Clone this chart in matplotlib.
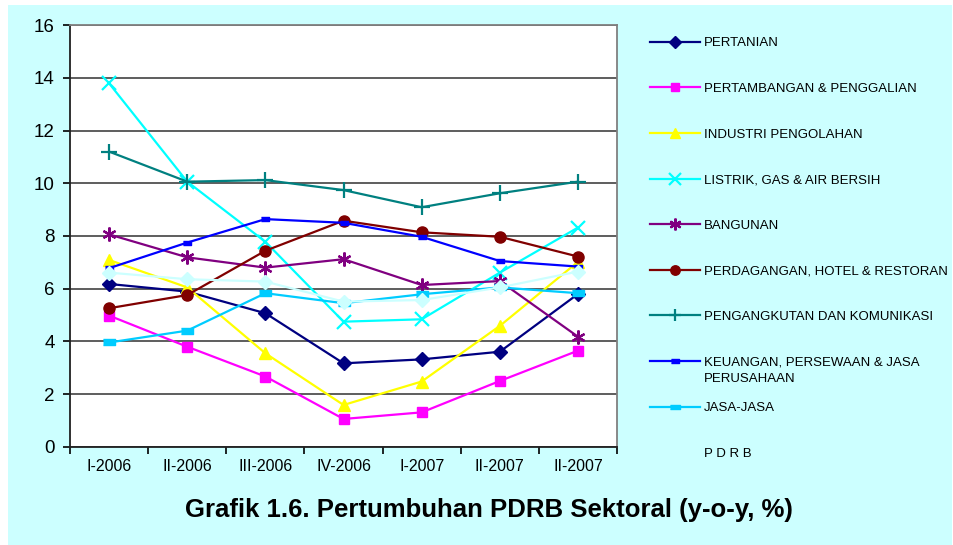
import numpy as np
import matplotlib.pyplot as plt
from matplotlib.patches import Rectangle

plt.rcParams['font.family'] = ['Liberation Sans', 'DejaVu Sans']

periods = ["I-2006", "II-2006", "III-2006", "IV-2006", "I-2007", "II-2007", "II-2007"]

pertanian = [6.18, 5.89, 5.07, 3.17, 3.32, 3.61, 5.80]
pertambangan = [4.98, 3.80, 2.67, 1.06, 1.31, 2.50, 3.65]
industri = [7.09, 6.05, 3.55, 1.59, 2.48, 4.59, 7.02]
listrik = [13.79, 10.06, 7.78, 4.75, 4.84, 6.61, 8.32]
bangunan = [8.06, 7.19, 6.80, 7.12, 6.14, 6.29, 4.18]
perdagangan = [5.26, 5.76, 7.44, 8.58, 8.14, 7.97, 7.22]
pengangkutan = [11.20, 10.06, 10.12, 9.74, 9.09, 9.62, 10.06]
keuangan = [6.78, 7.75, 8.64, 8.50, 7.97, 7.05, 6.84]
jasa = [3.96, 4.41, 5.83, 5.45, 5.79, 6.05, 5.83]
pdrb = [6.61, 6.36, 6.27, 5.51, 5.57, 6.05, 6.65]

labels = ["PERTANIAN", "PERTAMBANGAN & PENGGALIAN", "INDUSTRI PENGOLAHAN",
          "LISTRIK, GAS & AIR BERSIH", "BANGUNAN", "PERDAGANGAN, HOTEL & RESTORAN",
          "PENGANGKUTAN DAN KOMUNIKASI", "KEUANGAN, PERSEWAAN & JASA",
          "JASA-JASA", "P D R B"]
series = [pertanian, pertambangan, industri, listrik, bangunan, perdagangan,
          pengangkutan, keuangan, jasa, pdrb]
colors = ["#000080", "#FF00FF", "#FFFF00", "#00FFFF", "#800080", "#800000",
          "#008080", "#0000FF", "#00CCFF", "#CCFFFF"]
dash = [(-1, -0.5), (1, -0.5), (1, 0.5), (-1, 0.5)]
markers = ["D", "s", "^", "x", (6, 2, 0), "o", "+", dash, dash, "D"]
msizes = [7, 7, 9, 10, 10, 8, 11, 6, 8, 7]

fig = plt.figure(figsize=(9.54, 5.45), dpi=100, facecolor="white")
# light cyan chart area with thin white margin on the left/top/right
fig.patches.append(Rectangle((8 / 954, 0), 944 / 954, 540 / 545, transform=fig.transFigure,
                             facecolor="#CCFFFF", edgecolor="none", zorder=-10))
ax = fig.add_axes([0.0734, 0.180, 0.5734, 0.774])
ax.set_facecolor("white")

x = np.arange(len(periods))
for vals, lab, c, m, ms in zip(series, labels, colors, markers, msizes):
    ax.plot(x, vals, color=c, lw=1.6, marker=m, markersize=ms,
            markeredgewidth=1.6 if m in ("x", "+") or isinstance(m, tuple) else 1,
            markeredgecolor=c, markerfacecolor=c, label=lab)

ax.set_xlim(-0.5, 6.5)
ax.set_ylim(0, 16)
ax.set_yticks(np.arange(0, 17, 2))
ax.yaxis.grid(True, color="#505050", lw=1.3)
ax.set_axisbelow(True)
ax.set_xticks(x)
ax.set_xticklabels(periods, fontsize=11.5)
ax.set_xticks(np.arange(-0.5, 7, 1), minor=True)
ax.tick_params(axis="x", which="major", length=0, pad=9)
ax.tick_params(axis="x", which="minor", length=5, width=1.2, direction="out")
ax.tick_params(axis="y", length=5, width=1.2, labelsize=13.5, pad=6)

for s in ("top", "right"):
    ax.spines[s].set_color("#808080")
    ax.spines[s].set_linewidth(1.3)
for s in ("left", "bottom"):
    ax.spines[s].set_color("#202020")
    ax.spines[s].set_linewidth(1.3)

leg = fig.legend(loc="upper left", bbox_to_anchor=(0.6813, 0.932), frameon=False,
                 fontsize=9.5, handlelength=3.8, handletextpad=0.3, labelspacing=2.53,
                 borderpad=0, borderaxespad=0, markerscale=0.85)

# second line of the KEUANGAN label, placed right under its legend text
fig.canvas.draw()
bb = leg.get_texts()[7].get_window_extent().transformed(fig.transFigure.inverted())
fig.text(bb.x0, bb.y0 - 0.0085, "PERUSAHAAN", ha="left", va="top", fontsize=9.5)

fig.text(0.513, 0.065, "Grafik 1.6. Pertumbuhan PDRB Sektoral (y-o-y, %)",
         ha="center", va="center", fontsize=18.5, fontweight="bold")

fig.savefig("out.png", dpi=100, facecolor=fig.get_facecolor())
